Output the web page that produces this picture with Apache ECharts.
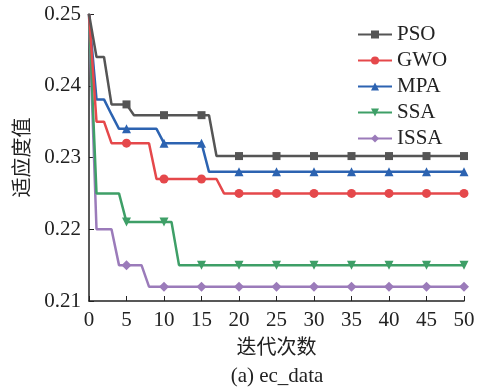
<!DOCTYPE html>
<html>
<head>
<meta charset="utf-8">
<script src="https://cdn.jsdelivr.net/npm/echarts@6/dist/echarts.min.js"></script>
<style>
  html, body { margin: 0; padding: 0; background: #fff; }
  #main { width: 478px; height: 392px; }
</style>
</head>
<body>
<div id="main"></div>
<script>
// 适应度值 per iteration (0..50)
var seriesNames = ['PSO', 'GWO', 'MPA', 'SSA', 'ISSA'];
var PSO = [
  0.25, 0.244, 0.244, 0.2374, 0.2374, 0.2374, 0.2359, 0.2359, 0.2359, 0.2359,
  0.2359, 0.2359, 0.2359, 0.2359, 0.2359, 0.2359, 0.2359, 0.2302, 0.2302, 0.2302,
  0.2302, 0.2302, 0.2302, 0.2302, 0.2302, 0.2302, 0.2302, 0.2302, 0.2302, 0.2302,
  0.2302, 0.2302, 0.2302, 0.2302, 0.2302, 0.2302, 0.2302, 0.2302, 0.2302, 0.2302,
  0.2302, 0.2302, 0.2302, 0.2302, 0.2302, 0.2302, 0.2302, 0.2302, 0.2302, 0.2302,
  0.2302
];
var GWO = [
  0.25, 0.235, 0.235, 0.232, 0.232, 0.232, 0.232, 0.232, 0.232, 0.227,
  0.227, 0.227, 0.227, 0.227, 0.227, 0.227, 0.227, 0.227, 0.225, 0.225,
  0.225, 0.225, 0.225, 0.225, 0.225, 0.225, 0.225, 0.225, 0.225, 0.225,
  0.225, 0.225, 0.225, 0.225, 0.225, 0.225, 0.225, 0.225, 0.225, 0.225,
  0.225, 0.225, 0.225, 0.225, 0.225, 0.225, 0.225, 0.225, 0.225, 0.225,
  0.225
];
var MPA = [
  0.25, 0.2381, 0.2381, 0.236, 0.234, 0.234, 0.234, 0.234, 0.234, 0.234,
  0.232, 0.232, 0.232, 0.232, 0.232, 0.232, 0.228, 0.228, 0.228, 0.228,
  0.228, 0.228, 0.228, 0.228, 0.228, 0.228, 0.228, 0.228, 0.228, 0.228,
  0.228, 0.228, 0.228, 0.228, 0.228, 0.228, 0.228, 0.228, 0.228, 0.228,
  0.228, 0.228, 0.228, 0.228, 0.228, 0.228, 0.228, 0.228, 0.228, 0.228,
  0.228
];
var SSA = [
  0.25, 0.225, 0.225, 0.225, 0.225, 0.221, 0.221, 0.221, 0.221, 0.221,
  0.221, 0.221, 0.215, 0.215, 0.215, 0.215, 0.215, 0.215, 0.215, 0.215,
  0.215, 0.215, 0.215, 0.215, 0.215, 0.215, 0.215, 0.215, 0.215, 0.215,
  0.215, 0.215, 0.215, 0.215, 0.215, 0.215, 0.215, 0.215, 0.215, 0.215,
  0.215, 0.215, 0.215, 0.215, 0.215, 0.215, 0.215, 0.215, 0.215, 0.215,
  0.215
];
var ISSA = [
  0.25, 0.22, 0.22, 0.22, 0.215, 0.215, 0.215, 0.215, 0.212, 0.212,
  0.212, 0.212, 0.212, 0.212, 0.212, 0.212, 0.212, 0.212, 0.212, 0.212,
  0.212, 0.212, 0.212, 0.212, 0.212, 0.212, 0.212, 0.212, 0.212, 0.212,
  0.212, 0.212, 0.212, 0.212, 0.212, 0.212, 0.212, 0.212, 0.212, 0.212,
  0.212, 0.212, 0.212, 0.212, 0.212, 0.212, 0.212, 0.212, 0.212, 0.212,
  0.212
];
var allValues = [PSO, GWO, MPA, SSA, ISSA];
var colors = ['#555555', '#E5484B', '#2C63B1', '#3E9F67', '#9B7BBA'];
var symbols = ['rect', 'circle', 'triangle', 'triangle', 'diamond'];
var rotates = [0, 0, 0, 180, 0];
var sizes = [8, 9, 9, 9, 10];

var serif = '"Liberation Serif", "Times New Roman", serif';
var cjk = '"Noto Sans CJK SC", sans-serif';

var chart = echarts.init(document.getElementById('main'), null, { renderer: 'canvas' });

var series = seriesNames.map(function (name, k) {
  var sz = sizes[k];
  return {
    name: name,
    type: 'line',
    data: allValues[k].map(function (v, i) { return [i, v]; }),
    symbol: symbols[k],
    symbolRotate: rotates[k],
    // markers only every 5 iterations, none on the start point
    symbolSize: function (val, params) {
      return (params.dataIndex % 5 === 0 && params.dataIndex > 0) ? sz : 0;
    },
    showAllSymbol: true,
    lineStyle: { color: colors[k], width: 2.5 },
    itemStyle: { color: colors[k] },
    z: 10 - k,
    animation: false
  };
});

var option = {
  animation: false,
  grid: { left: 89, right: 14, top: 14, bottom: 91 },
  legend: {
    orient: 'vertical',
    left: 352,
    top: 19,
    itemWidth: 34,
    itemHeight: 10,
    itemGap: 5,
    textStyle: { fontFamily: serif, fontSize: 21, color: '#222' },
    data: seriesNames
  },
  xAxis: {
    type: 'value',
    min: 0,
    max: 50,
    interval: 5,
    name: '迭代次数',
    nameLocation: 'middle',
    nameGap: 35,
    nameTextStyle: { fontFamily: cjk, fontSize: 20, color: '#222' },
    axisLine: { lineStyle: { color: '#222', width: 1.5 } },
    axisTick: { inside: true, length: 5, lineStyle: { color: '#222' } },
    axisLabel: { fontFamily: serif, fontSize: 21, color: '#222', margin: 9 },
    splitLine: { show: false }
  },
  yAxis: {
    type: 'value',
    min: 0.21,
    max: 0.25,
    interval: 0.01,
    name: '适应度值',
    nameLocation: 'middle',
    nameGap: 58,
    nameTextStyle: { fontFamily: cjk, fontSize: 20, color: '#222' },
    axisLine: { show: true, lineStyle: { color: '#222', width: 1.5 } },
    axisTick: { show: true, inside: true, length: 5, lineStyle: { color: '#222' } },
    axisLabel: {
      fontFamily: serif, fontSize: 21, color: '#222', margin: 8,
      formatter: function (v) { return v.toFixed(2); }
    },
    splitLine: { show: false }
  },
  graphic: [{
    type: 'text',
    x: 277,
    y: 376,
    style: {
      text: '(a) ec_data',
      font: '21px ' + serif,
      fill: '#222',
      textAlign: 'center',
      textVerticalAlign: 'middle'
    }
  }],
  series: series
};

chart.setOption(option);
</script>
</body>
</html>
